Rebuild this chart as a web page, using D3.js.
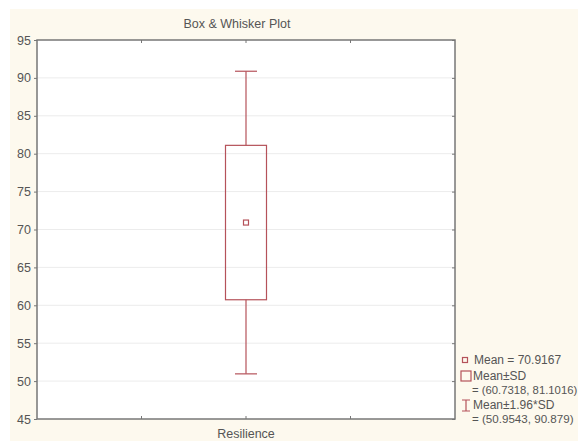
<!DOCTYPE html>
<html><head><meta charset="utf-8">
<script src="https://cdn.jsdelivr.net/npm/d3@7"></script>
<style>body{margin:0;background:#fff;}svg{display:block;font-family:"Liberation Sans",Arial,sans-serif;}</style>
</head><body>
<script>
const categories = ["Resilience"];
const meanValues = [70.9167];
const sdLow = [60.7318];
const sdHigh = [81.1016];
const ciLow = [50.9543];
const ciHigh = [90.879];
const yTicks = [45,50,55,60,65,70,75,80,85,90,95];
const legendLabels = ["Mean = 70.9167","Mean±SD","= (60.7318, 81.1016)","Mean±1.96*SD","= (50.9543, 90.879)"];

const W = 578, H = 441;
const m = {left:37, top:40, right:455, bottom:419};
const col = "#b5525a", txt = "#555";
const svg = d3.select("body").append("svg").attr("width",W).attr("height",H);
svg.append("rect").attr("x",10).attr("y",9).attr("width",W-10).attr("height",H-9).attr("fill","#fdf9ee");
svg.append("rect").attr("x",m.left).attr("y",m.top).attr("width",m.right-m.left).attr("height",m.bottom-m.top).attr("fill","#fff");

const y = d3.scaleLinear().domain([45,95]).range([m.bottom,m.top]);
const x = d3.scaleBand().domain(["", categories[0], " "]).range([m.left - (m.right-m.left)/4, m.right + (m.right-m.left)/4]).padding(0);
const xc = x(categories[0]) + x.bandwidth()/2;

// gridlines
svg.append("g").selectAll("line").data(yTicks.slice(1,-1)).join("line")
  .attr("x1",m.left).attr("x2",m.right).attr("y1",d=>y(d)).attr("y2",d=>y(d))
  .attr("stroke","#ececec").attr("stroke-width",1);

// y axis
const ya = svg.append("g").attr("transform",`translate(${m.left},0)`)
  .call(d3.axisLeft(y).tickValues(yTicks).tickSize(3).tickPadding(3));
ya.select(".domain").remove();
ya.selectAll("line").attr("stroke","#777");
ya.selectAll("text").attr("fill",txt).style("font-size","12.5px").style("font-family","Liberation Sans, Arial, sans-serif");

// right ticks
svg.append("g").attr("transform",`translate(${m.right},0)`)
  .call(d3.axisLeft(y).tickValues(yTicks).tickSize(3).tickFormat(""))
  .call(g=>{g.select(".domain").remove(); g.selectAll("line").attr("stroke","#777");});

// x ticks at quarters
const qx = [0.25,0.5,0.75].map(f=>m.left+(m.right-m.left)*f);
svg.append("g").selectAll("line").data(qx).join("line")
  .attr("x1",d=>d).attr("x2",d=>d).attr("y1",m.bottom).attr("y2",m.bottom-3).attr("stroke","#777");
svg.append("g").selectAll("line").data(qx).join("line")
  .attr("x1",d=>d).attr("x2",d=>d).attr("y1",m.top).attr("y2",m.top+3).attr("stroke","#777");

// frame
svg.append("rect").attr("x",m.left).attr("y",m.top).attr("width",m.right-m.left).attr("height",m.bottom-m.top)
  .attr("fill","none").attr("stroke","#777").attr("stroke-width",1.5);

// box plot
const g = svg.append("g").attr("stroke",col).attr("fill","none").attr("stroke-width",1.2);
categories.forEach((c,i)=>{
  const cx = x(c)+x.bandwidth()/2;
  g.append("line").attr("x1",cx).attr("x2",cx).attr("y1",y(ciHigh[i])).attr("y2",y(sdHigh[i]));
  g.append("line").attr("x1",cx).attr("x2",cx).attr("y1",y(sdLow[i])).attr("y2",y(ciLow[i]));
  g.append("line").attr("x1",cx-11).attr("x2",cx+11).attr("y1",y(ciHigh[i])).attr("y2",y(ciHigh[i]));
  g.append("line").attr("x1",cx-11).attr("x2",cx+11).attr("y1",y(ciLow[i])).attr("y2",y(ciLow[i]));
  g.append("rect").attr("x",cx-20.5).attr("width",41).attr("y",y(sdHigh[i])).attr("height",y(sdLow[i])-y(sdHigh[i]));
  g.append("rect").attr("x",cx-2.5).attr("width",5).attr("y",y(meanValues[i])-2.5).attr("height",5);
});

// title
svg.append("text").attr("x",xc-9).attr("y",28).attr("text-anchor","middle").attr("fill",txt)
  .style("font-size","12.5px").text("Box & Whisker Plot");
// x label
svg.append("text").attr("x",xc).attr("y",438).attr("text-anchor","middle").attr("fill",txt)
  .style("font-size","12.5px").text(categories[0]);

// legend
const lg = svg.append("g");
lg.append("rect").attr("x",462.5).attr("y",357.5).attr("width",5).attr("height",5).attr("fill","none").attr("stroke",col).attr("stroke-width",1.2);
lg.append("rect").attr("x",461).attr("y",371).attr("width",10).attr("height",10).attr("fill","none").attr("stroke",col).attr("stroke-width",1.2);
lg.append("path").attr("d","M462,400H470M466,400V411M462,411H470").attr("fill","none").attr("stroke",col).attr("stroke-width",1.2);
const lx = [474,473,472,473,472], ly = [364,380,394,409,423], fs = [12,12,11.3,12,11.6];
lg.selectAll("text").data(legendLabels).join("text")
  .attr("x",(d,i)=>lx[i]).attr("y",(d,i)=>ly[i]).attr("fill",txt).style("font-size",(d,i)=>fs[i]+"px").text(d=>d);
</script>
</body></html>
